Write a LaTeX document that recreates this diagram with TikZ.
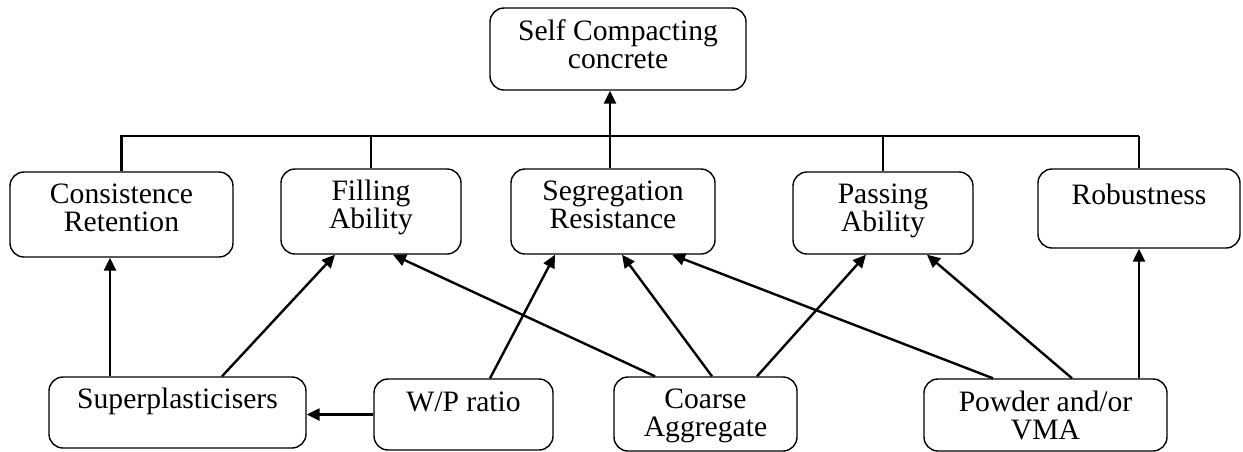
\documentclass[tikz,border=0pt]{standalone}
\usepackage{fontspec}
\setmainfont{Liberation Serif}
\usetikzlibrary{arrows.meta,calc,positioning}

\begin{document}
\begin{tikzpicture}[->,>={Triangle[length=6.5pt,width=6pt]},x=0.5pt,y=-0.5pt,
        line width=1.2pt,
        main node/.style={draw,rounded corners=7pt,line width=0.7pt,align=center,
          inner sep=0pt,text height=29.5pt,font=\fontsize{14.8}{14}\selectfont},
        plain edge/.style={-}]

      \useasboundingbox (0,0) rectangle (1243,451);

      \node[main node,minimum width=128pt,text height=30pt,text depth=11pt] (scc) at (618,49) {Self Compacting\\concrete};

      \node[main node,minimum width=111.5pt,text depth=13pt] (cons) at (121.5,214.5) {Consistence\\Retention};
      \node[main node,minimum width=90pt,text depth=13pt] (fill) at (371,211.5) {Filling\\Ability};
      \node[main node,minimum width=102pt,text depth=13pt] (seg) at (613,211.5) {Segregation\\Resistance};
      \node[main node,minimum width=90pt,text depth=11.5pt] (pass) at (883,213) {Passing\\Ability};
      \node[main node,minimum width=101pt,text height=17.5pt,text depth=22pt] (rob) at (1139,208.5) {Robustness};

      \node[main node,minimum width=128.5pt,text height=15.5pt,text depth=20pt] (sup) at (177.5,412.5) {Superplasticisers};
      \node[main node,minimum width=89.5pt,text height=16pt,text depth=19.5pt] (wp) at (463.5,414.5) {W/P ratio};
      \node[main node,minimum width=91.5pt,text depth=7.5pt] (coarse) at (705.5,414) {Coarse\\Aggregate};
      \node[main node,minimum width=121.5pt,text height=30pt,text depth=6pt] (powder) at (1045.5,415) {Powder and/or\\VMA};

      % bus to the top box
      \coordinate (bus) at (120,136);
      \coordinate (busend) at (1139,136);
      \draw[plain edge] (bus) -- (busend);
      \draw[plain edge] (cons.north) -- (cons.north |- bus);
      \draw[plain edge] (fill.north) -- (fill.north |- bus);
      \draw[plain edge] ($(seg.north)+(-3,0)$) -- ($(seg.north |- bus)+(-3,0)$);
      \draw[plain edge] (pass.north) -- (pass.north |- bus);
      \draw[plain edge] (rob.north) -- (rob.north |- bus);
      \draw ($(seg.north |- bus)+(-3,0)$) -- ($(scc.south)+(-8,0)$);

      % inputs
      \path
      ($(sup.north)+(-67.5,0)$) edge ($(cons.south)+(-11.5,0)$)
      ($(sup.north)+(44.5,0)$) edge ($(fill.south)+(-36,0)$)
      (wp.west) edge (sup.east |- wp.west)
      ($(wp.north)+(26.5,0)$) edge ($(seg.south)+(-58,0)$)
      ($(coarse.north)+(-50.5,0)$) edge ($(fill.south)+(22,0)$)
      ($(coarse.north)+(6.5,0)$) edge ($(seg.south)+(9,0)$)
      ($(coarse.north)+(51.5,0)$) edge ($(pass.south)+(-17,0)$)
      ($(powder.north)+(-52.5,0)$) edge ($(seg.south)+(59,0)$)
      ($(powder.north)+(26.5,0)$) edge ($(pass.south)+(44,0)$)
      ($(powder.north)+(93.5,0)$) edge (rob.south);
    \end{tikzpicture}
\end{document}
